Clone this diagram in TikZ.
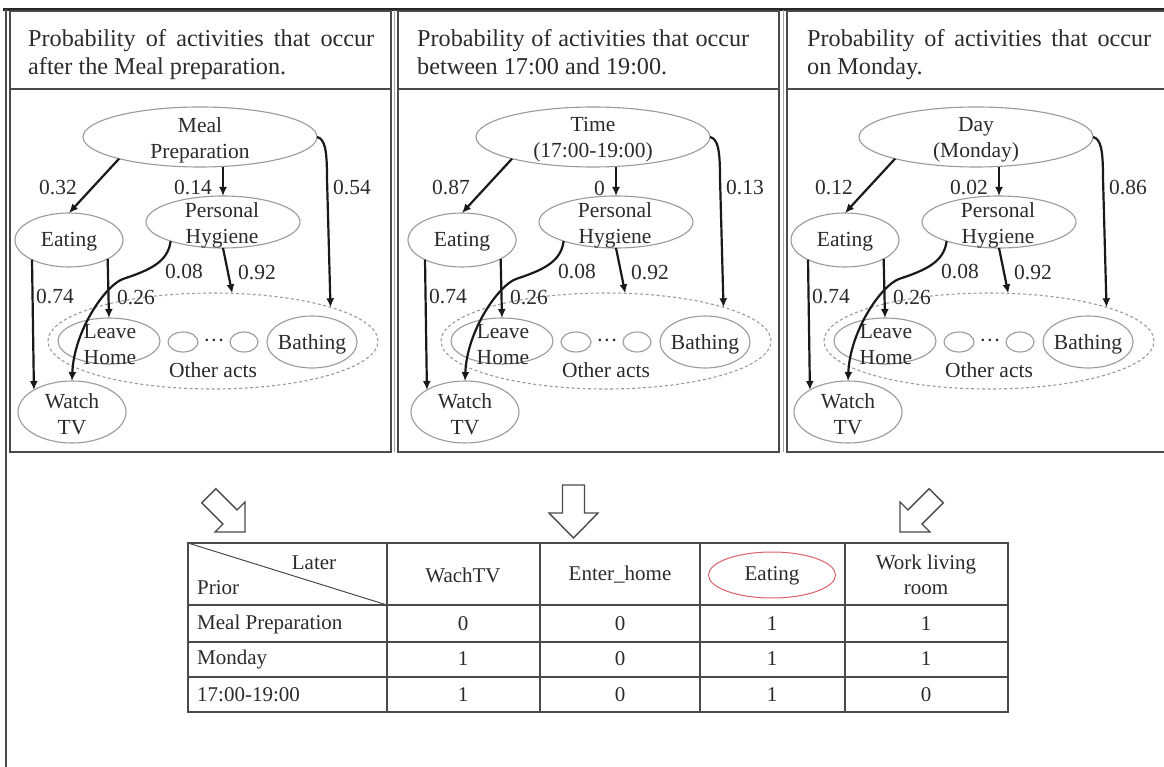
\documentclass[tikz,border=0pt]{standalone}
\usepackage{fontspec}
\setmainfont{Liberation Serif}
\usetikzlibrary{shapes.geometric,arrows.meta}

\definecolor{ink}{HTML}{2B2B2B}
\definecolor{rim}{HTML}{9A9A9A}
\definecolor{frame}{HTML}{4A4A4A}
\definecolor{ring}{HTML}{E0606A}

\tikzset{
  oval/.style={ellipse, draw=rim, line width=1.1pt, inner sep=0pt, outer sep=0pt},
  grp/.style={ellipse, draw=rim, dash pattern=on 3pt off 2.5pt, line width=1.1pt, inner sep=0pt, outer sep=0pt},
  lbl/.style={text=ink, font=\fontsize{21.5}{26}\selectfont, inner sep=0pt, align=center},
  link/.style={draw=black!90, line width=2.2pt, -{Latex[length=9pt,width=8pt]}},
  head/.style={text=ink, font=\fontsize{24.2}{28}\selectfont, inner sep=0pt, anchor=base west},
  cell/.style={text=ink, font=\fontsize{21}{25}\selectfont, inner sep=0pt, align=center},
  rule/.style={draw=frame, line width=2pt},
  grid/.style={draw=frame, line width=1.5pt},
  blockarrow/.style={draw=frame, line width=1.4pt, line join=miter, fill=white},
}

% One activity graph: #1 name prefix, #2 horizontal shift, #3 root text,
% #4 root->Eating, #5 root->Personal Hygiene, #6 root->Bathing
\newcommand\actgraph[6]{%
 \begin{scope}[xshift=#2]
  \node[oval, minimum width=234pt, minimum height=60pt] (#1top) at (200,137) {};
  \node[lbl] (#1topt) at (200,140) {#3};
  \node[oval, minimum width=108pt, minimum height=54pt] (#1eat) at (69,240) {};
  \node[lbl] (#1eatt) at (69,242) {Eating};
  \node[oval, minimum width=154pt, minimum height=52pt] (#1ph) at (223,222) {};
  \node[lbl] (#1pht) at (222,225) {Personal\\Hygiene};
  \node[grp, minimum width=330pt, minimum height=96pt] (#1oth) at (213,341) {};
  \node[oval, minimum width=102pt, minimum height=46pt] (#1lv) at (109,341) {};
  \node[lbl] (#1lvt) at (110,345) {Leave\\Home};
  \node[oval, minimum width=30pt, minimum height=20pt] (#1oa) at (183,342) {};
  \node[oval, minimum width=28pt, minimum height=20pt] (#1ob) at (244,342) {};
  \node[lbl] (#1dots) at (214,343) {\textperiodcentered\textperiodcentered\textperiodcentered};
  \node[oval, minimum width=90pt, minimum height=52pt] (#1bath) at (312,342) {};
  \node[lbl] (#1batht) at (312,344) {Bathing};
  \node[lbl] (#1otht) at (213,370) {Other acts};
  \node[oval, minimum width=108pt, minimum height=62pt] (#1tv) at (72,412) {};
  \node[lbl] (#1tvt) at (72,414) {Watch\\TV};
  % transitions
  \draw[link] (#1top.195) -- (#1eat.north);
  \draw[link] (#1ph.north |- #1top.south) -- (#1ph.north);
  \draw[link] (#1top.east) .. controls (325,139) and (327,150) .. (327,178) -- (#1oth.16.5);
  \draw[link] (#1eat.208) -- (#1tv.150);
  \draw[link] (#1eat.-26) -- (#1lv.north);
  \draw[link] (#1ph.200) .. controls (168,262) and (150,270) .. (123,279)
                         .. controls (106,285) and (74,330) .. (#1tv.north);
  \draw[link] (#1ph.south) -- (#1oth.68);
  % probabilities
  \node[lbl] (#1la) at (58,188) {#4};
  \node[lbl, anchor=east] (#1lb) at (212,188) {#5};
  \node[lbl, anchor=west] (#1lc) at (333,188) {#6};
  \node[lbl] (#1ld) at (55,297) {0.74};
  \node[lbl] (#1le) at (136,298) {0.26};
  \node[lbl] (#1lf) at (184,272) {0.08};
  \node[lbl] (#1lg) at (257,273) {0.92};
 \end{scope}}

\begin{document}
\begin{tikzpicture}[x=1pt,y=-1pt]
\useasboundingbox (0,0) rectangle (1164,767);
\fill[white] (0,0) rectangle (1164,767);

% outer frame
\draw[line width=3pt, draw=black!85] (3,10) -- (1164,10);
\draw[line width=2.5pt, draw=frame] (6,9) -- (6,767);

% panel frames with their header rows
\draw[rule] (10,11) rectangle (391,452);
\draw[rule, line width=2.5pt] (10,89) -- (391,89);
\draw[rule] (398,11) rectangle (779,452);
\draw[rule, line width=2.5pt] (398,89) -- (779,89);
\draw[rule] (787,11) rectangle (1172,452);
\draw[rule, line width=2.5pt] (787,89) -- (1172,89);
\draw[draw=black!35, line width=1pt] (394.5,10) -- (394.5,452);
\draw[draw=black!35, line width=1pt] (783,10) -- (783,452);

% headers
\node[head] (h1a) at (28,47) {\makebox[346pt][s]{Probability of activities that occur}};
\node[head] (h1b) at (28,75) {after the Meal preparation.};
\node[head] (h2a) at (417,47) {\makebox[332pt][s]{Probability of activities that occur}};
\node[head] (h2b) at (417,75) {between 17:00 and 19:00.};
\node[head] (h3a) at (807,47) {\makebox[344pt][s]{Probability of activities that occur}};
\node[head] (h3b) at (807,75) {on Monday.};

% graphs
\actgraph{a}{0pt}{Meal\\Preparation}{0.32}{0.14}{0.54}
\actgraph{b}{393pt}{Time\\(17:00-19:00)}{0.87}{0}{0.13}
\actgraph{c}{776pt}{Day\\(Monday)}{0.12}{0.02}{0.86}

% hollow block arrows towards the table
\draw[blockarrow] (215.9,488.7) -- (237.1,509.9) -- (245,502) -- (245,532)
  -- (215,532) -- (222.9,524.1) -- (201.7,502.9) -- cycle;
\draw[blockarrow] (562.5,485) -- (584.5,485) -- (584.5,513) -- (598,513)
  -- (573.5,538) -- (549,513) -- (562.5,513) -- cycle;
\draw[blockarrow] (929.1,488.7) -- (907.9,509.9) -- (900,502) -- (900,532)
  -- (930,532) -- (922.1,524.1) -- (943.3,502.9) -- cycle;

% result table
\draw[grid] (188,543) rectangle (1008,712);
\foreach \yy in {605,642,677} \draw[grid] (188,\yy) -- (1008,\yy);
\foreach \xx in {387,540,700,845} \draw[grid] (\xx,543) -- (\xx,712);
\draw[draw=frame, line width=1pt] (188,543) -- (387,605);

\node[cell] (later) at (314,563) {Later};
\node[cell, anchor=west] (prior) at (197,588) {Prior};
\node[cell] (c1) at (463,575) {WachTV};
\node[cell] (c2) at (620,575) {Enter\_home};
\node[ellipse, draw=ring, line width=1pt, minimum width=127pt, minimum height=46pt, inner sep=0pt] (mark) at (772,575) {};
\node[cell] (c3) at (772,576) {Eating};
\node[cell] (c4) at (926,575) {Work living\\room};

\node[cell, anchor=west] (r1) at (197,624) {Meal Preparation};
\node[cell, anchor=west] (r2) at (197,659) {Monday};
\node[cell, anchor=west] (r3) at (197,695) {17:00-19:00};

\node[cell] (v11) at (463,624) {0};
\node[cell] (v12) at (620,624) {0};
\node[cell] (v13) at (772,624) {1};
\node[cell] (v14) at (926,624) {1};
\node[cell] (v21) at (463,659) {1};
\node[cell] (v22) at (620,659) {0};
\node[cell] (v23) at (772,659) {1};
\node[cell] (v24) at (926,659) {1};
\node[cell] (v31) at (463,695) {1};
\node[cell] (v32) at (620,695) {0};
\node[cell] (v33) at (772,695) {1};
\node[cell] (v34) at (926,695) {0};
\end{tikzpicture}
\end{document}
